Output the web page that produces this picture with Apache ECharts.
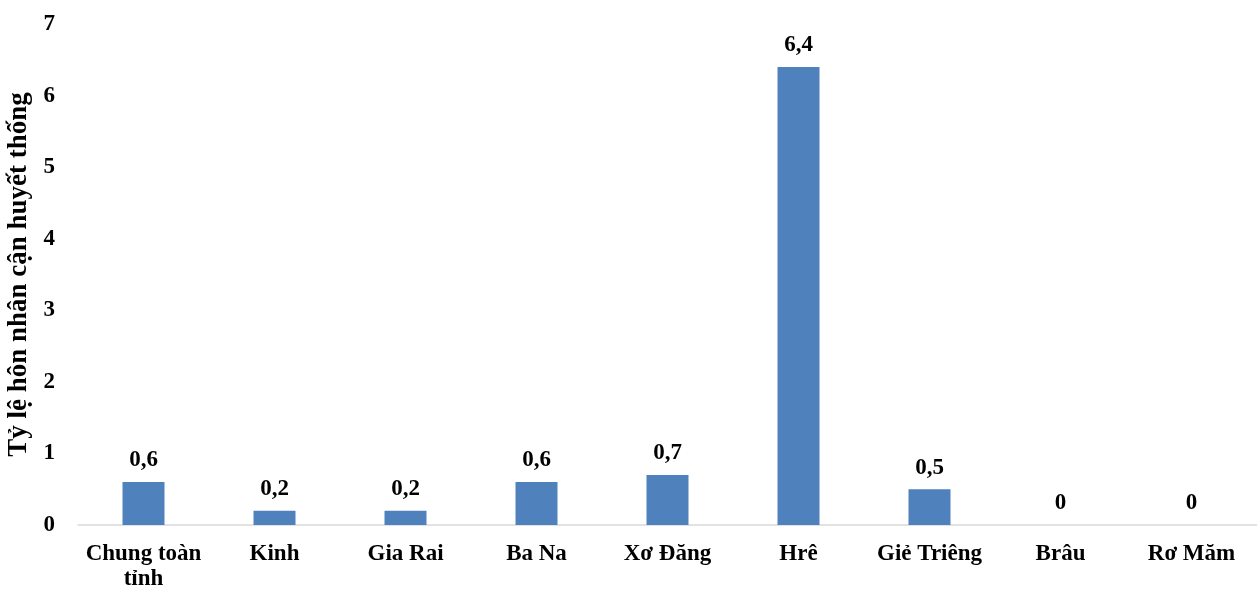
<!DOCTYPE html>
<html>
<head>
    <meta charset="utf-8">
    <title>ECharts</title>
    <script src="https://cdn.jsdelivr.net/npm/echarts@6/dist/echarts.min.js"></script>
</head>
<body>
<style>
    html, body, #main {
        width: 100%;
        padding: 0;
        margin: 0;
        height: 100%;
    }
</style>
<div id="main"></div>
<script type="text/javascript">
    var categories = ['Chung toàn\ntỉnh', 'Kinh', 'Gia Rai', 'Ba Na', 'Xơ Đăng', 'Hrê', 'Giẻ Triêng', 'Brâu', 'Rơ Măm'];
    var values = [0.6, 0.2, 0.2, 0.6, 0.7, 6.4, 0.5, 0, 0];
    var yName = 'Tỷ lệ hôn nhân cận huyết thống';

    var font = {
        fontFamily: '"Liberation Serif", "Times New Roman", serif',
        fontWeight: 'bold',
        fontSize: 23,
        color: '#000'
    };

    var myChart = echarts.init(document.getElementById('main'));
    window.onresize = function () {
        myChart.resize();
    };

    myChart.setOption({
        animation: false,
        grid: {left: 78, right: 0, top: 24, bottom: 66, containLabel: false, outerBoundsMode: 'none'},
        xAxis: {
            type: 'category',
            data: categories,
            axisLine: {lineStyle: {color: '#d9d9d9', width: 1.5}},
            axisTick: {show: false},
            axisLabel: Object.assign({}, font, {margin: 17, lineHeight: 25, interval: 0})
        },
        yAxis: {
            type: 'value',
            min: 0,
            max: 7,
            interval: 1,
            name: yName,
            nameLocation: 'middle',
            nameGap: 43,
            nameTextStyle: Object.assign({}, font, {fontSize: 27}),
            splitLine: {show: false},
            axisLine: {show: false},
            axisTick: {show: false},
            axisLabel: Object.assign({}, font, {margin: 23})
        },
        series: [{
            type: 'bar',
            data: values,
            barWidth: 42,
            itemStyle: {color: '#4f81bd'},
            label: Object.assign({}, font, {
                show: true,
                position: 'top',
                distance: 10,
                formatter: function (p) {
                    return String(p.value).replace('.', ',');
                }
            })
        }]
    });
</script>
</body>
</html>
